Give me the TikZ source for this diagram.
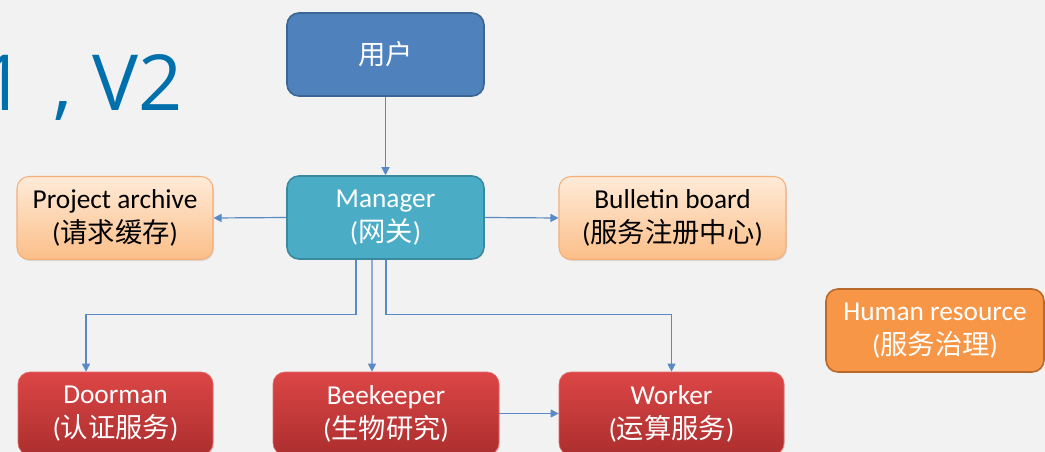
\documentclass[tikz,border=0pt]{standalone}
\usepackage{fontspec}
\setmainfont{Carlito}
\newfontfamily\cjk{Noto Sans CJK SC}
\newfontfamily\titlefont{Open Sans}
\usetikzlibrary{arrows.meta,shadows}
\definecolor{bgc}{HTML}{F2F2F2}
\definecolor{linec}{HTML}{5A8AC6}
\definecolor{userfill}{HTML}{4F81BD}
\definecolor{userdraw}{HTML}{3A6595}
\definecolor{mgrfill}{HTML}{4BACC6}
\definecolor{mgrdraw}{HTML}{3A8A9F}
\definecolor{orgtop}{HTML}{FFEBD8}
\definecolor{orgbot}{HTML}{FBBE88}
\definecolor{orgdraw}{HTML}{F4AE78}
\definecolor{redtop}{HTML}{DC4646}
\definecolor{redbot}{HTML}{AC2E2E}
\definecolor{hrfill}{HTML}{F79646}
\definecolor{hrdraw}{HTML}{B86A2C}
\definecolor{titlec}{HTML}{0070AD}
\tikzset{
  box/.style={rounded corners=9pt, align=center, font=\fontsize{20.5}{25.5}\selectfont,
    minimum height=62.25pt, inner sep=2pt, line width=1.2pt},
  userbox/.style={box, fill=userfill, draw=userdraw, text=white},
  mgrbox/.style={box, fill=mgrfill, draw=mgrdraw, text=white},
  orgbox/.style={box, top color=orgtop, bottom color=orgbot, draw=orgdraw, line width=0.8pt, text=black,
    drop shadow={opacity=0.2, shadow xshift=0.8pt, shadow yshift=-1.2pt}},
  redbox/.style={box, top color=redtop, bottom color=redbot, draw=redtop!80!white, line width=0.5pt, text=white,
    drop shadow={opacity=0.2, shadow xshift=0.8pt, shadow yshift=-1.2pt}},
  hrbox/.style={box, fill=hrfill, draw=hrdraw, text=white},
  arr/.style={draw=linec, line width=0.9pt, -{Triangle[length=6pt,width=6pt]}},
}
\begin{document}
\begin{tikzpicture}[x=0.75pt,y=-0.75pt]
\fill[bgc] (0,0) rectangle (1045,452);
\useasboundingbox (0,0) rectangle (1045,452);
\begin{scope}
\clip (0,0) rectangle (1045,452);
\node[anchor=base east, text=titlec, font=\titlefont\fontsize{58}{60}\selectfont, inner sep=0pt] (title) at (183,111) {1\hspace{6pt} , V2};
\node[userbox, minimum width=147.75pt] (u) at (385.5,54.5) {{\cjk 用户}};
\node[mgrbox, minimum width=147.75pt] (m) at (385.5,217.5) {Manager\\({\cjk 网关})};
\node[orgbox, minimum width=147pt] (pa) at (115,218) {Project archive\\({\cjk 请求缓存})};
\node[orgbox, minimum width=170.25pt] (bb) at (672.5,218) {Bulletin board\\({\cjk 服务注册中心})};
\node[hrbox, minimum width=163.5pt] (hr) at (935,330.5) {Human resource\\({\cjk 服务治理})};
\node[redbox, minimum width=146.25pt] (d) at (115.5,413.5) {Doorman\\({\cjk 认证服务})};
\node[redbox, minimum width=169.5pt] (b) at (386,413.5) {Beekeeper\\({\cjk 生物研究})};
\node[redbox, minimum width=168.75pt] (w) at (671.5,413.5) {Worker\\({\cjk 运算服务})};
\draw[arr] (u) -- (m);
\draw[arr] (m.west) -- (pa.east);
\draw[arr] (m.east) -- (bb.west);
\draw[arr] ([xshift=-22.1pt]m.south) -- ++(0,55) -| ([xshift=-22.1pt]d.north);
\draw[arr] ([xshift=-10.1pt]m.south) -- ([xshift=-10.5pt]b.north);
\draw[arr] ([xshift=0.4pt]m.south) -- ++(0,55) -| (w.north);
\draw[arr] (b.east) -- (w.west);
\end{scope}
\end{tikzpicture}
\end{document}
